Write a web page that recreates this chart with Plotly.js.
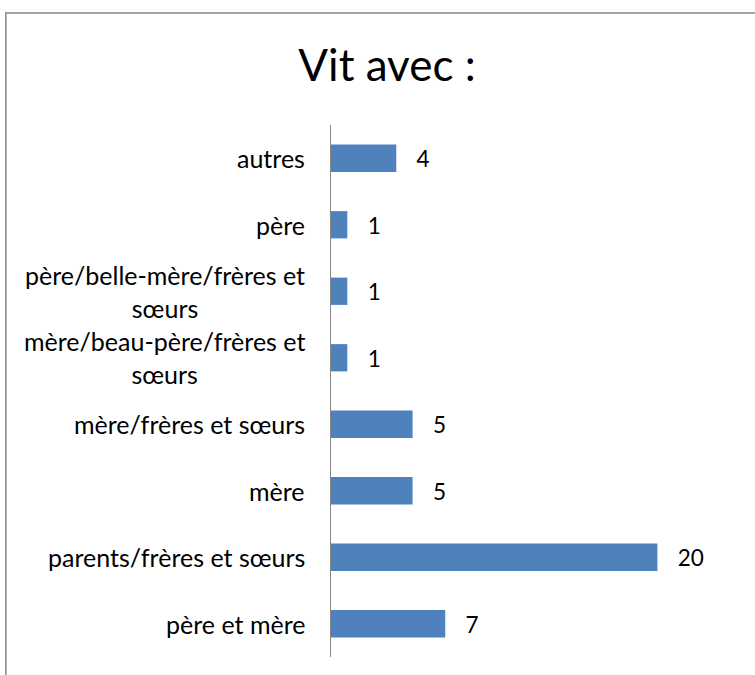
<!DOCTYPE html>
<html>
<head>
<meta charset="utf-8">
<script src="https://cdn.plot.ly/plotly-3.0.1.min.js"></script>
<style>html,body{margin:0;padding:0;background:#fff;}#chart{width:755px;height:675px;}</style>
</head>
<body>
<div id="chart"></div>
<script>
const categories = [
  "père et mère",
  "parents/frères et sœurs",
  "mère",
  "mère/frères et sœurs",
  "mère/beau-père/frères et<br>sœurs",
  "père/belle-mère/frères et<br>sœurs",
  "père",
  "autres"
];
const values = [7, 20, 5, 5, 1, 1, 1, 4];
const titleText = "Vit avec :";

const FONT = "Lato, 'Open Sans', sans-serif";

const trace = {
  type: "bar",
  orientation: "h",
  y: categories,
  x: values,
  marker: {color: "#4F81BD"},
  text: values.map(String),
  texttemplate: "   %{text}",
  textposition: "outside",
  cliponaxis: false,
  textfont: {family: FONT, size: 24, color: "#000"},
  hoverinfo: "none"
};

const labelAnnotations = categories.map(c => ({
  xref: "paper", yref: "y",
  x: 0, y: c,
  xanchor: "right", yanchor: "middle",
  xshift: -24,
  text: c,
  align: "center",
  showarrow: false,
  font: {family: FONT, size: 25, color: "#000"}
}));

const layout = {
  width: 755,
  height: 675,
  margin: {l: 331, r: 16, t: 125, b: 18, pad: 0},
  paper_bgcolor: "#fff",
  plot_bgcolor: "#fff",
  showlegend: false,
  bargap: 0.59,
  font: {family: FONT, color: "#000"},
  title: {
    text: titleText,
    font: {family: FONT, size: 44, color: "#000"},
    xref: "container", x: 0.5126, xanchor: "center",
    yref: "container", y: 0.903, yanchor: "middle"
  },
  xaxis: {
    range: [0, 25],
    showgrid: false,
    zeroline: false,
    showticklabels: false,
    ticks: "",
    showline: false,
    fixedrange: true
  },
  yaxis: {
    type: "category",
    showgrid: false,
    zeroline: false,
    showline: true,
    linecolor: "#868686",
    linewidth: 1.5,
    ticks: "",
    showticklabels: false,
    automargin: false,
    fixedrange: true
  },
  annotations: labelAnnotations,
  shapes: [{
    type: "rect",
    xref: "paper", yref: "paper",
    x0: -0.797, x1: 2, y0: -1, y1: 1.2105,
    line: {color: "#868686", width: 1.5},
    fillcolor: "rgba(0,0,0,0)",
    layer: "below"
  }]
};

Plotly.newPlot("chart", [trace], layout, {displayModeBar: false, staticPlot: true});
</script>
</body>
</html>
